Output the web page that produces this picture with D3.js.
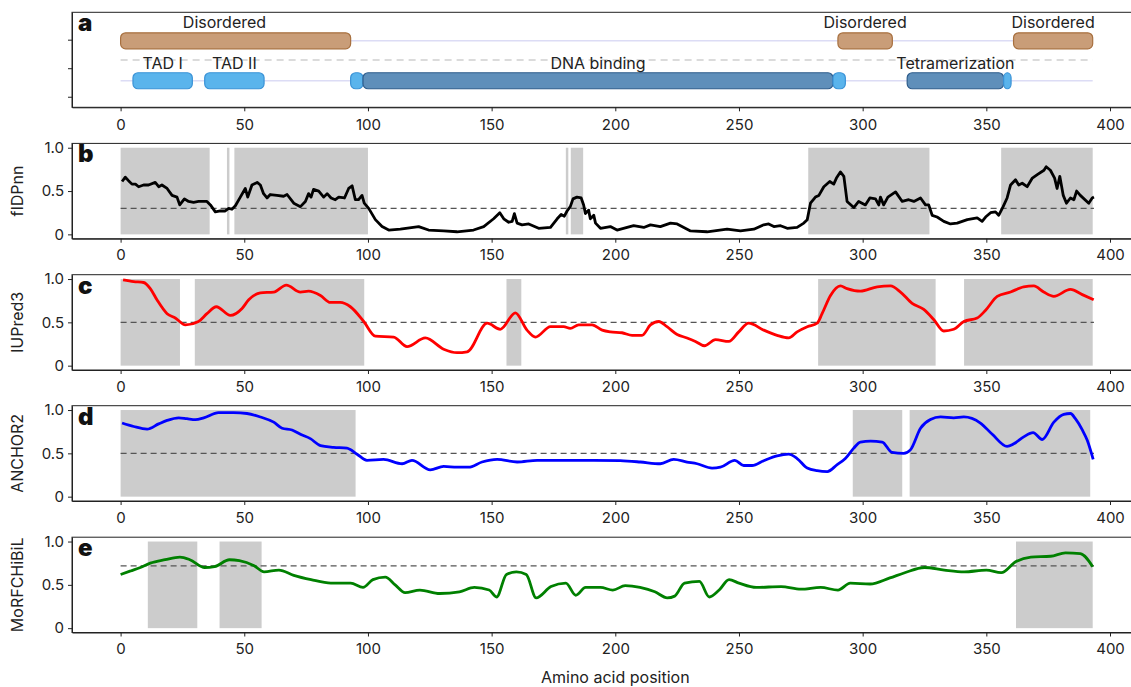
<!DOCTYPE html>
<html>
<head>
<meta charset="utf-8">
<script src="https://cdn.jsdelivr.net/npm/d3@7"></script>
<style>
  body { margin: 0; background: #fff; }
  svg { font-family: Inter, "Noto Sans", sans-serif; }
</style>
</head>
<body>
<div id="chart"></div>
<script>
// ---- data ----
// panel a: annotated regions (residue start / end)
var disordered = [
  {start: 0,   end: 93,  label: "Disordered", labelAt: 42},
  {start: 290, end: 312, label: "Disordered", labelAt: 301},
  {start: 361, end: 393, label: "Disordered", labelAt: 377}
];
var domains = [
  {start: 5,   end: 29,  label: "TAD I",           kind: "light"},
  {start: 34,  end: 58,  label: "TAD II",          kind: "light"},
  {start: 93,  end: 98,  label: "",                kind: "light"},
  {start: 98,  end: 288, label: "DNA binding",     kind: "dark"},
  {start: 288, end: 293, label: "",                kind: "light"},
  {start: 318, end: 357, label: "Tetramerization", kind: "dark"},
  {start: 357, end: 360, label: "",                kind: "light"}
];
var seqLength = 393;
var xTicks = [0, 50, 100, 150, 200, 250, 300, 350, 400];
var yTicks = [0, 0.5, 1];

// predictor scores [residue, score]
var fidpnn = [[0.6,0.61],[1.9,0.66],[3.2,0.62],[4.6,0.58],[6,0.58],[7.3,0.55],[9.3,0.57],[11.3,0.57],[14,0.60],[15.4,0.55],[16.7,0.57],[18.8,0.53],[20.8,0.45],[22.8,0.43],[23.9,0.34],[25.8,0.41],[27.5,0.38],[29.5,0.37],[31.5,0.38],[34.9,0.38],[36.3,0.34],[38.3,0.26],[40.3,0.27],[42.3,0.27],[43.7,0.30],[45,0.29],[46.4,0.33],[48.4,0.43],[50.4,0.53],[51.4,0.43],[53.1,0.57],[55.2,0.60],[56.5,0.57],[57.8,0.47],[59.2,0.42],[60.5,0.46],[63.2,0.45],[65.9,0.44],[67.3,0.46],[70,0.36],[72.7,0.32],[74.7,0.38],[76,0.47],[77,0.43],[78,0.52],[80.1,0.50],[82.1,0.43],[83.5,0.47],[85.1,0.42],[86.8,0.40],[88.2,0.43],[90.5,0.42],[92.2,0.53],[93.6,0.56],[94.9,0.40],[96.2,0.40],[97.6,0.45],[98.5,0.36],[100.3,0.30],[103,0.17],[105.7,0.09],[108.4,0.05],[113.1,0.06],[120.5,0.09],[124.5,0.05],[130.6,0.04],[136,0.03],[142.7,0.05],[146.8,0.09],[150.8,0.18],[153.3,0.25],[154.9,0.18],[156.9,0.14],[158.3,0.15],[159.2,0.24],[160.3,0.13],[162.3,0.11],[165,0.12],[169,0.07],[173.8,0.08],[176.5,0.18],[178.1,0.23],[179.4,0.21],[180.5,0.27],[181.8,0.32],[182.9,0.41],[184.5,0.43],[186.2,0.42],[187.2,0.34],[187.9,0.24],[189.2,0.28],[189.9,0.18],[191.3,0.22],[192,0.13],[194,0.07],[198,0.09],[200.7,0.05],[207.4,0.10],[211.5,0.08],[214.2,0.11],[218.2,0.09],[222.3,0.13],[225,0.12],[230.4,0.04],[237.1,0.03],[245.2,0.06],[250.6,0.04],[256,0.06],[260,0.11],[262,0.12],[264.1,0.09],[266.8,0.10],[269.5,0.07],[273.5,0.08],[276.2,0.13],[277.6,0.17],[278.9,0.36],[280.9,0.43],[282.3,0.45],[284.3,0.55],[286.7,0.61],[288.3,0.58],[289.4,0.65],[291,0.72],[292.4,0.67],[293.7,0.38],[296.4,0.31],[298.4,0.38],[301.1,0.34],[302.9,0.42],[305.2,0.41],[306.5,0.34],[307.2,0.43],[308.5,0.34],[310.2,0.43],[313.3,0.49],[316,0.38],[318.6,0.40],[320.7,0.38],[323.4,0.42],[325.4,0.34],[326.7,0.34],[328.1,0.22],[330.1,0.20],[332.8,0.15],[335.5,0.12],[338.2,0.13],[342.3,0.17],[346.3,0.19],[348.3,0.15],[349.7,0.20],[351.7,0.25],[353.7,0.26],[355,0.22],[356.8,0.32],[358.4,0.42],[359.8,0.57],[361.8,0.63],[363.1,0.57],[364.5,0.59],[366.5,0.55],[368.6,0.65],[370.6,0.69],[373.3,0.74],[374.2,0.78],[375.9,0.74],[377.6,0.65],[378.6,0.53],[379.7,0.67],[381.1,0.45],[382.4,0.36],[384,0.42],[385.4,0.40],[386.5,0.50],[388,0.45],[391.4,0.36],[392.8,0.42],[393.5,0.43]];

var iupred3 = [[1,0.99],[5.3,0.97],[9.3,0.96],[12,0.89],[14.7,0.76],[18.8,0.60],[22.1,0.55],[26.2,0.47],[31.5,0.51],[34.9,0.60],[38.7,0.68],[44.4,0.58],[49.1,0.66],[51.8,0.76],[56.5,0.84],[61.9,0.85],[67,0.93],[72.7,0.85],[76,0.86],[80.8,0.81],[84.8,0.73],[88.8,0.73],[92.9,0.68],[98.3,0.51],[103,0.34],[110.4,0.33],[115.8,0.22],[123.2,0.32],[130.6,0.19],[136,0.15],[140.1,0.16],[148.2,0.49],[153.5,0.42],[159.6,0.61],[164.3,0.41],[167.7,0.33],[173.8,0.45],[179.1,0.45],[181.8,0.43],[185.2,0.47],[190.6,0.47],[194.7,0.41],[198,0.39],[202.7,0.38],[206.8,0.35],[210.8,0.35],[214.2,0.47],[217.6,0.51],[220.9,0.45],[225,0.36],[229,0.32],[232.4,0.28],[236,0.23],[240.5,0.30],[245.9,0.28],[249.9,0.39],[253.9,0.49],[260,0.41],[265.4,0.35],[270.1,0.32],[273.5,0.39],[277.6,0.45],[281.6,0.49],[283.6,0.60],[287,0.81],[291,0.92],[293.7,0.89],[299.1,0.86],[305.9,0.91],[311.3,0.92],[315.3,0.85],[320,0.72],[324.7,0.65],[328.8,0.53],[332.8,0.40],[336.8,0.42],[340.9,0.51],[346.3,0.55],[349.7,0.64],[354.4,0.80],[359.8,0.85],[365.1,0.91],[369.2,0.92],[373.2,0.85],[377.3,0.80],[384,0.88],[388.8,0.82],[393.4,0.76]];

var anchor2 = [[0.6,0.85],[5.3,0.81],[10.7,0.78],[15.4,0.84],[18.8,0.88],[23.5,0.91],[26.8,0.90],[30.2,0.89],[33.6,0.91],[39.6,0.97],[45.7,0.97],[51.1,0.96],[56.5,0.92],[61.9,0.86],[65.3,0.79],[69.3,0.77],[72.7,0.72],[76.7,0.67],[80.8,0.59],[86.1,0.57],[91.5,0.56],[95.6,0.49],[99.6,0.42],[106.3,0.43],[113.8,0.38],[117.8,0.42],[125.2,0.31],[130.6,0.35],[136,0.34],[140.7,0.34],[146.1,0.40],[152.2,0.43],[160.3,0.40],[168.4,0.42],[180.5,0.42],[191.3,0.42],[202,0.415],[210.1,0.40],[218.2,0.38],[223.6,0.43],[229,0.40],[233.1,0.38],[239.1,0.33],[242.5,0.34],[248.3,0.42],[251.9,0.36],[255.3,0.36],[260,0.415],[265.4,0.47],[270.1,0.49],[273.5,0.44],[277.6,0.33],[281.6,0.30],[285.7,0.29],[289.7,0.37],[293,0.44],[296.4,0.56],[299.1,0.63],[303.2,0.64],[307.9,0.63],[311.9,0.51],[316.6,0.50],[319.3,0.54],[323.4,0.79],[327.4,0.89],[331.5,0.92],[336.8,0.91],[340.9,0.92],[347.6,0.85],[352.4,0.72],[358.4,0.58],[361.1,0.61],[365.1,0.69],[368.9,0.74],[372.6,0.66],[377.3,0.86],[381.3,0.95],[384,0.96],[386,0.90],[388.8,0.77],[390.8,0.65],[393.2,0.43]];

var morfchibil = [[0,0.62],[4,0.66],[8,0.70],[12,0.75],[18,0.79],[24,0.82],[28,0.79],[34,0.70],[38,0.71],[44,0.79],[48,0.78],[54,0.72],[58,0.65],[64,0.67],[70,0.61],[77,0.56],[85,0.52],[93,0.52],[98,0.47],[102,0.56],[107,0.59],[111,0.50],[115,0.41],[121,0.44],[129,0.40],[137,0.42],[143,0.47],[149,0.44],[152,0.36],[156,0.62],[160,0.65],[164,0.62],[168,0.35],[174,0.48],[180,0.52],[184,0.38],[188,0.47],[194,0.47],[199,0.44],[204,0.49],[210,0.47],[216,0.42],[221,0.35],[224,0.37],[228,0.52],[234,0.54],[238,0.36],[242,0.44],[246,0.56],[250,0.52],[257,0.47],[267,0.48],[275,0.45],[283,0.47],[290,0.44],[295,0.52],[303,0.51],[311,0.58],[317,0.64],[325,0.70],[333,0.67],[341,0.65],[350,0.67],[356,0.64],[362,0.77],[368,0.82],[376,0.83],[382,0.87],[388,0.86],[393,0.71]];

// shaded (predicted disordered / binding) regions
var fidpnnRegions = [[0,36],[43,44],[46,100],[180,181],[182,187],[278,327],[356,393]];
var iupred3Regions = [[0,24],[30,98.5],[156,162],[282,329.5],[341,393]];
var anchor2Regions = [[0,95],[296,316],[319,392]];
var morfchibilRegions = [[11,31],[40,57],[362,393]];

// cut-offs
var fidpnnCut = 0.3, iupred3Cut = 0.5, anchor2Cut = 0.5, morfchibilCut = 0.72;

// ---- layout ----
var W = 1131, H = 687;
var svg = d3.select("#chart").append("svg")
    .attr("width", W).attr("height", H);

var x = d3.scaleLinear().domain([-19.65, 412.65]).range([72, 1141.3]);
var tickFont = 15;

function styleAxis(g) {
  g.selectAll(".domain").attr("stroke", "#222");
  g.selectAll(".tick line").attr("stroke", "#222");
  g.selectAll(".tick text").attr("font-size", tickFont).attr("fill", "#222")
    .attr("font-family", "Inter, sans-serif");
}

function frame(g, top, bottom) {
  g.append("rect")
    .attr("x", 72).attr("y", top)
    .attr("width", 1141.3 - 72).attr("height", bottom - top)
    .attr("fill", "none").attr("stroke", "#222").attr("stroke-width", 1);
}

function panelLetter(g, txt, top) {
  g.append("text")
    .attr("x", 78).attr("y", top + 19)
    .attr("font-size", 24).attr("font-weight", 900)
    .attr("font-family", "Inter, 'DejaVu Sans', sans-serif")
    .attr("fill", "#111")
    .text(txt);
}

// ---- panel a ----
var aTop = 12.3, aBottom = 107.3;
var ya = d3.scaleLinear().domain([-0.37, 2.96]).range([aBottom, aTop]);
var disY = 1.96, domY = 0.56, sepY = 1.29;
var ga = svg.append("g");

ga.append("line")
  .attr("x1", x(0)).attr("x2", x(seqLength))
  .attr("y1", ya(disY)).attr("y2", ya(disY))
  .attr("stroke", "#dcdcf5").attr("stroke-width", 1.5);
ga.append("line")
  .attr("x1", x(0)).attr("x2", x(seqLength))
  .attr("y1", ya(domY)).attr("y2", ya(domY))
  .attr("stroke", "#dcdcf5").attr("stroke-width", 1.5);
ga.append("line")
  .attr("x1", x(0)).attr("x2", x(seqLength))
  .attr("y1", ya(sepY)).attr("y2", ya(sepY))
  .attr("stroke", "#cfcfcf").attr("stroke-width", 1.5)
  .attr("stroke-dasharray", "7,5");

var barH = 16;
ga.selectAll("rect.dis").data(disordered).enter().append("rect")
  .attr("class", "dis")
  .attr("x", function(d) { return x(d.start); })
  .attr("width", function(d) { return x(d.end) - x(d.start); })
  .attr("y", ya(disY) - barH / 2).attr("height", barH)
  .attr("rx", 5).attr("ry", 5)
  .attr("fill", "#c99d78").attr("stroke", "#a8703f").attr("stroke-width", 1.2);
ga.selectAll("text.dis").data(disordered).enter().append("text")
  .attr("class", "dis")
  .attr("x", function(d) { return x(d.labelAt); })
  .attr("y", ya(disY) - barH / 2 - 5)
  .attr("text-anchor", "middle").attr("font-size", 16).attr("fill", "#222")
  .text(function(d) { return d.label; });

ga.selectAll("rect.dom").data(domains).enter().append("rect")
  .attr("class", "dom")
  .attr("x", function(d) { return x(d.start); })
  .attr("width", function(d) { return x(d.end) - x(d.start); })
  .attr("y", ya(domY) - barH / 2).attr("height", barH)
  .attr("rx", function(d) { return Math.min(5, (x(d.end) - x(d.start)) / 2); })
  .attr("ry", 5)
  .attr("fill", function(d) { return d.kind === "dark" ? "#5f8fba" : "#5ab4ec"; })
  .attr("stroke", function(d) { return d.kind === "dark" ? "#2f5d8c" : "#3a92d6"; })
  .attr("stroke-width", 1.2);
ga.selectAll("text.dom").data(domains.filter(function(d) { return d.label; })).enter().append("text")
  .attr("class", "dom")
  .attr("x", function(d) { return x((d.start + d.end) / 2); })
  .attr("y", ya(domY) - barH / 2 - 4)
  .attr("text-anchor", "middle").attr("font-size", 16).attr("fill", "#222")
  .text(function(d) { return d.label; });

frame(ga, aTop, aBottom);
ga.append("g").attr("transform", "translate(0," + aBottom + ")")
  .call(d3.axisBottom(x).tickValues(xTicks).tickSize(4).tickSizeOuter(0).tickPadding(8))
  .call(styleAxis);
ga.append("g").attr("transform", "translate(72,0)")
  .call(d3.axisLeft(ya).tickValues([0, 1, 2]).tickFormat("").tickSize(4).tickSizeOuter(0))
  .call(styleAxis);
panelLetter(ga, "a", aTop);

// ---- panels b-e ----
var panels = [
  {letter: "b", name: "fIDPnn",     data: fidpnn,     regions: fidpnnRegions,     cut: fidpnnCut,     color: "#000000", top: 143.4, smooth: false},
  {letter: "c", name: "IUPred3",    data: iupred3,    regions: iupred3Regions,    cut: iupred3Cut,    color: "#ff0000", top: 274.7, smooth: true},
  {letter: "d", name: "ANCHOR2",    data: anchor2,    regions: anchor2Regions,    cut: anchor2Cut,    color: "#0000ff", top: 405.7, smooth: true},
  {letter: "e", name: "MoRFCHiBiL", data: morfchibil, regions: morfchibilRegions, cut: morfchibilCut, color: "#008000", top: 537.2, smooth: true}
];
var pH = 95.3;

panels.forEach(function(p) {
  var g = svg.append("g");
  var bottom = p.top + pH;
  var y = d3.scaleLinear().domain([-0.05, 1.05]).range([bottom, p.top]);

  g.selectAll("rect.reg").data(p.regions).enter().append("rect")
    .attr("class", "reg")
    .attr("x", function(d) { return x(d[0]); })
    .attr("width", function(d) { return x(d[1]) - x(d[0]); })
    .attr("y", y(1)).attr("height", y(0) - y(1))
    .attr("fill", "#cccccc");

  g.append("line")
    .attr("x1", x(0)).attr("x2", x(seqLength + 0.5))
    .attr("y1", y(p.cut)).attr("y2", y(p.cut))
    .attr("stroke", "#555").attr("stroke-width", 1.3)
    .attr("stroke-dasharray", "6,4");

  g.append("path").datum(p.data)
    .attr("fill", "none")
    .attr("stroke", p.color).attr("stroke-width", 2.8)
    .attr("stroke-linejoin", "round")
    .attr("d", d3.line()
      .curve(p.smooth ? d3.curveMonotoneX : d3.curveLinear)
      .x(function(d) { return x(d[0]); })
      .y(function(d) { return y(d[1]); }));

  frame(g, p.top, bottom);
  g.append("g").attr("transform", "translate(0," + bottom + ")")
    .call(d3.axisBottom(x).tickValues(xTicks).tickSize(4).tickSizeOuter(0).tickPadding(7))
    .call(styleAxis);
  g.append("g").attr("transform", "translate(72,0)")
    .call(d3.axisLeft(y).tickValues(yTicks).tickSize(4).tickSizeOuter(0).tickPadding(4)
      .tickFormat(function(v) { return v === 0 ? "0" : d3.format(".1f")(v); }))
    .call(styleAxis);

  g.append("text")
    .attr("transform", "translate(23," + (p.top + pH / 2) + ") rotate(-90)")
    .attr("text-anchor", "middle").attr("font-size", 16).attr("fill", "#222")
    .text(p.name);

  panelLetter(g, p.letter, p.top);
});

svg.append("text")
  .attr("x", x(200)).attr("y", 683)
  .attr("text-anchor", "middle").attr("font-size", 16).attr("fill", "#222")
  .text("Amino acid position");
</script>
</body>
</html>
